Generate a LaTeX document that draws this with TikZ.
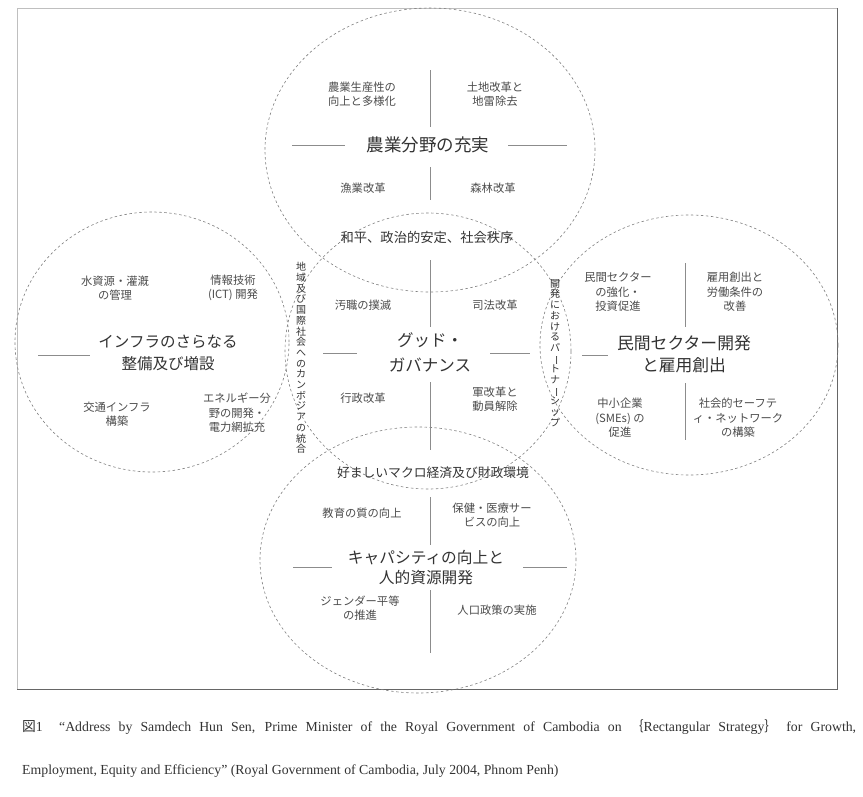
\documentclass[tikz,border=0pt]{standalone}
\usepackage{fontspec}
\usepackage{graphicx}
\setmainfont{Liberation Serif}
\newfontfamily\jp{Noto Sans CJK JP}
\newcommand{\vbar}{\rotatebox[origin=c]{-90}{ー}}
\tikzset{
  circ/.style={draw=black!50, dash pattern=on 2.5pt off 2.5pt, line width=0.6pt},
  sep/.style={draw=black!45, line width=0.5pt},
  big/.style={font=\jp\fontsize{15.5}{22}\selectfont, text=black!80, align=center, inner sep=0pt},
  small/.style={font=\jp\fontsize{11.3}{14.5}\selectfont, text=black!70, align=center, inner sep=0pt},
  arclabel/.style={font=\jp\fontsize{12.8}{15}\selectfont, text=black!80, inner sep=0pt},
  vlabel/.style={font=\jp\fontsize{10}{10.7}\selectfont, text=black!80, align=center, inner sep=0pt},
  caption/.style={font=\fontsize{13.8}{16}\selectfont, text=black!80, anchor=base west, inner sep=0pt},
}
\begin{document}
\begin{tikzpicture}[x=1pt,y=-1pt]
\useasboundingbox (0,0) rectangle (863,796);
\fill[white] (0,0) rectangle (863,796);
% frame
\draw[draw=black!25, line width=0.5pt] (17,689) -- (17,8) -- (837,8);
\draw[draw=black!60, line width=0.8pt] (17,689) -- (837,689) -- (837,8);
% circles
\draw[circ] (430,150) ellipse [x radius=165pt, y radius=142pt];
\draw[circ] (152,342) ellipse [x radius=137pt, y radius=130pt];
\draw[circ] (689,345) ellipse [x radius=149pt, y radius=130pt];
\draw[circ] (418,560) ellipse [x radius=158pt, y radius=133pt];
\draw[circ] (428,351) ellipse [x radius=143pt, y radius=138pt];

% ---- top circle: agriculture
\node[big, font=\jp\fontsize{17.5}{22}\selectfont] (agri) at (428,145) {農業分野の充実};
\draw[sep] (292,145) -- (345,145);
\draw[sep] (508,145) -- (567,145);
\draw[sep] (430,70) -- (430,127);
\draw[sep] (430,167) -- (430,200);
\node[small] (agri1) at (362,94) {農業生産性の\\向上と多様化};
\node[small] (agri2) at (495,94) {土地改革と\\地雷除去};
\node[small] (agri3) at (363,188) {漁業改革};
\node[small] (agri4) at (493,188) {森林改革};

% ---- arc labels
\node[arclabel, font=\jp\fontsize{13.3}{15}\selectfont] (peace) at (427,237) {和平、政治的安定、社会秩序};
\node[arclabel] (macro) at (433,473) {好ましいマクロ経済及び財政環境};
\node[vlabel] (integ) at (301,358) {地\\域\\及\\び\\国\\際\\社\\会\\へ\\の\\カ\\ン\\ボ\\ジ\\ア\\の\\統\\合};
\node[vlabel] (partner) at (555,353) {開\\発\\に\\お\\け\\る\\パ\\\vbar\\ト\\ナ\\\vbar\\シ\\ッ\\プ};

% ---- centre: good governance
\node[big, font=\jp\fontsize{16.5}{25}\selectfont] (gov) at (430,352) {グッド・\\ガバナンス};
\draw[sep] (323,353) -- (357,353);
\draw[sep] (490,353) -- (530,353);
\draw[sep] (430,260) -- (430,327);
\draw[sep] (430,382) -- (430,450);
\node[small] (gov1) at (363,305) {汚職の撲滅};
\node[small] (gov2) at (495,305) {司法改革};
\node[small] (gov3) at (363,398) {行政改革};
\node[small] (gov4) at (495,399) {軍改革と\\動員解除};

% ---- left circle: infrastructure
\node[big] (infra) at (168,353) {インフラのさらなる\\整備及び増設};
\draw[sep] (38,355) -- (90,355);
\node[small] (infra1) at (115,288) {水資源・灌漑\\の管理};
\node[small] (infra2) at (233,288) {情報技術\\(ICT) 開発};
\node[small] (infra3) at (117,414) {交通インフラ\\構築};
\node[small] (infra4) at (237,413) {エネルギー分\\野の開発・\\電力網拡充};

% ---- right circle: private sector
\node[big, font=\jp\fontsize{16.8}{22}\selectfont] (priv) at (684,354) {民間セクター開発\\と雇用創出};
\draw[sep] (582,355) -- (608,355);
\draw[sep] (685,263) -- (685,327);
\draw[sep] (685,383) -- (685,440);
\node[small] (priv1) at (618,292) {民間セクター\\の強化・\\投資促進};
\node[small] (priv2) at (735,292) {雇用創出と\\労働条件の\\改善};
\node[small] (priv3) at (620,418) {中小企業\\(SMEs) の\\促進};
\node[small] (priv4) at (738,418) {社会的セーフテ\\ィ・ネットワーク\\の構築};

% ---- bottom circle: capacity
\node[big, font=\jp\fontsize{15.7}{20}\selectfont] (cap) at (426,568) {キャパシティの向上と\\人的資源開発};
\draw[sep] (293,567) -- (332,567);
\draw[sep] (523,567) -- (567,567);
\draw[sep] (430,497) -- (430,545);
\draw[sep] (430,590) -- (430,653);
\node[small] (cap1) at (362,513) {教育の質の向上};
\node[small] (cap2) at (492,515) {保健・医療サー\\ビスの向上};
\node[small] (cap3) at (360,608) {ジェンダー平等\\の推進};
\node[small] (cap4) at (497,610) {人口政策の実施};

% ---- caption
\node[caption] (capA) at (22,731) {\hbox to 834pt{{\jp 図}1\ \ ``Address by Samdech Hun Sen, Prime Minister of the Royal Government of Cambodia on {\jp ｛}Rectangular Strategy{\jp ｝} for Growth,}};
\node[caption] (capB) at (22,774) {Employment, Equity and Efficiency'' (Royal Government of Cambodia, July 2004, Phnom Penh)};
\end{tikzpicture}
\end{document}
